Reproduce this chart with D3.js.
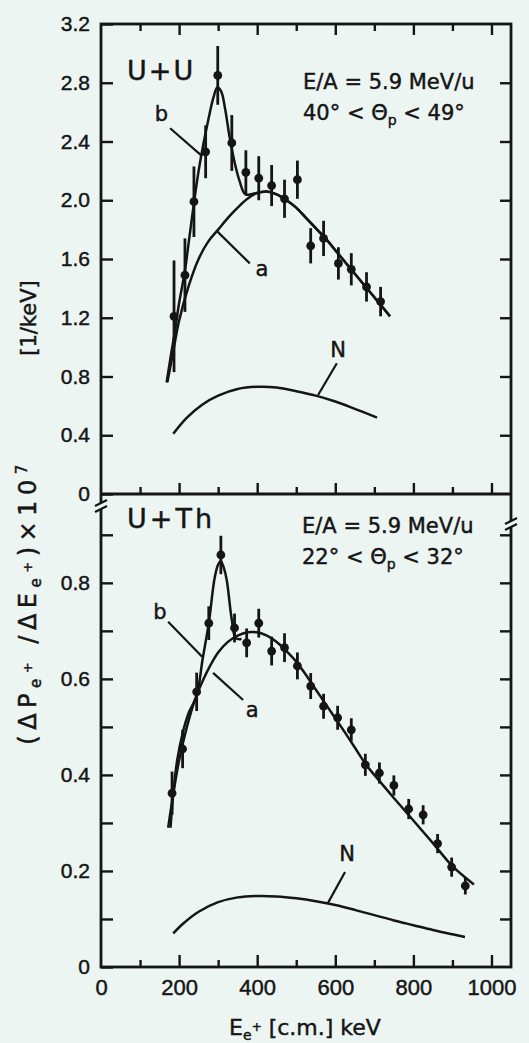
<!DOCTYPE html>
<html>
<head>
<meta charset="utf-8">
<script src="https://cdn.jsdelivr.net/npm/d3@7"></script>
<style>
  body { margin: 0; background: #edf5f3; }
  svg { display: block; font-family: "DejaVu Sans", sans-serif; }
  svg text { stroke: #151515; stroke-width: 0.45px; }
  .tick line { stroke: #151515; stroke-width: 2.4; }
  .tick text { fill: #151515; }
</style>
</head>
<body>
<div id="chart"></div>
<script>
// ---- data ----
const xMajorTicks = [0, 200, 400, 600, 800, 1000];
const xMinorTicks = [100, 300, 500, 700, 900];
const uuTicks = [0, 0.4, 0.8, 1.2, 1.6, 2.0, 2.4, 2.8, 3.2];
const thTicks = [0, 0.2, 0.4, 0.6, 0.8];
const thMinorTicks = [0.1, 0.3, 0.5, 0.7, 0.9];

// U+U measured points
const uuE   = [187, 215, 238, 268, 299, 335, 371, 404, 437, 470, 503, 537, 570, 608, 641, 680, 716];
const uuV   = [1.21, 1.49, 1.99, 2.33, 2.85, 2.39, 2.19, 2.15, 2.10, 2.01, 2.14, 1.69, 1.74, 1.57, 1.53, 1.41, 1.31];
const uuErr = [0.38, 0.25, 0.24, 0.18, 0.20, 0.19, 0.15, 0.15, 0.14, 0.13, 0.13, 0.12, 0.12, 0.11, 0.11, 0.10, 0.10];

// U+U curves a, b, N
const uuAE = [170, 185, 200, 225, 250, 275, 300, 325, 350, 375, 400, 425, 450, 475, 500, 525, 550, 575, 600, 625, 650, 675, 700, 725, 740];
const uuA  = [0.76, 0.97, 1.18, 1.42, 1.60, 1.72, 1.80, 1.88, 1.95, 2.01, 2.05, 2.06, 2.04, 2.00, 1.95, 1.88, 1.81, 1.74, 1.66, 1.58, 1.50, 1.42, 1.34, 1.26, 1.21];
const uuBE = [168, 180, 190, 200, 215, 225, 238, 250, 262, 275, 288, 298, 308, 318, 330, 342, 355, 370];
const uuB  = [0.76, 0.96, 1.12, 1.30, 1.52, 1.72, 1.98, 2.20, 2.38, 2.55, 2.70, 2.77, 2.74, 2.62, 2.42, 2.26, 2.13, 2.04];
const uuNE = [185, 220, 260, 300, 350, 400, 450, 500, 550, 600, 650, 707];
const uuN  = [0.41, 0.52, 0.61, 0.67, 0.715, 0.73, 0.725, 0.70, 0.67, 0.63, 0.58, 0.52];

// U+Th measured points
const thE   = [182, 209, 245, 276, 307, 342, 373, 404, 437, 470, 503, 537, 570, 606, 641, 677, 713, 750, 788, 825, 862, 898, 933];
const thV   = [0.362, 0.454, 0.573, 0.716, 0.858, 0.706, 0.675, 0.716, 0.658, 0.665, 0.627, 0.585, 0.543, 0.519, 0.494, 0.421, 0.404, 0.378, 0.329, 0.317, 0.257, 0.208, 0.169];
const thErr = [0.045, 0.04, 0.04, 0.035, 0.04, 0.03, 0.03, 0.03, 0.03, 0.03, 0.028, 0.027, 0.026, 0.025, 0.024, 0.023, 0.022, 0.021, 0.021, 0.02, 0.02, 0.02, 0.018];

// U+Th curves a, b, N
const thAE = [172, 185, 200, 220, 240, 260, 280, 300, 325, 350, 375, 400, 425, 450, 475, 500, 525, 550, 575, 600, 625, 650, 679, 700, 750, 800, 850, 900, 955];
const thA  = [0.29, 0.36, 0.43, 0.50, 0.555, 0.595, 0.628, 0.655, 0.677, 0.690, 0.697, 0.697, 0.690, 0.677, 0.658, 0.636, 0.608, 0.578, 0.548, 0.518, 0.488, 0.457, 0.421, 0.400, 0.352, 0.305, 0.258, 0.210, 0.172];
const thBE = [178, 185, 195, 210, 225, 245, 260, 276, 291, 300, 307, 315, 322, 335, 345, 360];
const thB  = [0.29, 0.36, 0.43, 0.49, 0.53, 0.565, 0.64, 0.716, 0.81, 0.838, 0.845, 0.83, 0.806, 0.723, 0.685, 0.683];
const thNE = [185, 210, 250, 300, 350, 400, 450, 500, 550, 600, 650, 700, 750, 800, 850, 900, 932];
const thN  = [0.07, 0.09, 0.115, 0.135, 0.145, 0.148, 0.147, 0.143, 0.137, 0.129, 0.119, 0.108, 0.097, 0.087, 0.077, 0.068, 0.0625];

// ---- layout ----
const W = 529, H = 1043;
const frameLeft = 101, frameRight = 511, frameTop = 24, frameMid = 494, frameBottom = 967;
const ink = "#151515";
const paper = "#edf5f3";

const svg = d3.select("#chart").append("svg")
    .attr("width", W)
    .attr("height", H);

svg.append("rect").attr("width", W).attr("height", H).attr("fill", paper);

const x = d3.scaleLinear().domain([0, 1050]).range([frameLeft, frameRight]);
const yU = d3.scaleLinear().domain([0, 3.2]).range([frameMid, frameTop]);
const yT = d3.scaleLinear().domain([0, 0.985]).range([frameBottom, frameMid]);

const zip = (xs, ys) => xs.map((e, i) => [e, ys[i]]);

// ---- axes ----
function xTickRow(y, majorLen, minorLen, labels) {
    const g = svg.append("g").attr("transform", `translate(0,${y})`);
    g.append("g")
        .call(d3.axisBottom(x).tickValues(labels ? xMajorTicks : xMajorTicks.slice(1))
            .tickSizeInner(majorLen).tickSizeOuter(0).tickPadding(12)
            .tickFormat(labels ? d3.format("d") : ""))
        .call(s => s.select(".domain").remove())
        .selectAll("text").attr("font-size", 22);
    g.append("g")
        .call(d3.axisBottom(x).tickValues(xMinorTicks)
            .tickSizeInner(minorLen).tickSizeOuter(0).tickFormat(""))
        .call(s => s.select(".domain").remove());
    if (labels) g.selectAll(".tick").filter(d => d === 0).select("line").remove();
}
xTickRow(frameTop, 11, 7, false);
xTickRow(frameMid, -11, -7, false);
xTickRow(frameBottom, -12, -7, true);

// left / right ticks of U+U panel
svg.append("g").attr("transform", `translate(${frameLeft},0)`)
    .call(d3.axisLeft(yU).tickValues(uuTicks).tickSizeInner(-12).tickSizeOuter(0)
        .tickPadding(11).tickFormat(d => d === 0 ? "0" : d3.format(".1f")(d)))
    .call(s => s.select(".domain").remove())
    .selectAll("text").attr("font-size", 21);
svg.append("g").attr("transform", `translate(${frameRight},0)`)
    .call(d3.axisRight(yU).tickValues(uuTicks.slice(1, -1)).tickSizeInner(-11).tickSizeOuter(0).tickFormat(""))
    .call(s => s.select(".domain").remove());

// left / right ticks of U+Th panel
svg.append("g").attr("transform", `translate(${frameLeft},0)`)
    .call(d3.axisLeft(yT).tickValues(thTicks).tickSizeInner(-12).tickSizeOuter(0)
        .tickPadding(11).tickFormat(d => d === 0 ? "0" : d3.format(".1f")(d)))
    .call(s => s.select(".domain").remove())
    .selectAll("text").attr("font-size", 21);
svg.append("g").attr("transform", `translate(${frameLeft},0)`)
    .call(d3.axisLeft(yT).tickValues(thMinorTicks).tickSizeInner(-12).tickSizeOuter(0).tickFormat(""))
    .call(s => s.select(".domain").remove());
svg.append("g").attr("transform", `translate(${frameRight},0)`)
    .call(d3.axisRight(yT).tickValues(thTicks.slice(1).concat(thMinorTicks)).tickSizeInner(-11).tickSizeOuter(0).tickFormat(""))
    .call(s => s.select(".domain").remove());

// frame
svg.append("rect")
    .attr("x", frameLeft).attr("y", frameTop)
    .attr("width", frameRight - frameLeft).attr("height", frameBottom - frameTop)
    .attr("fill", "none").attr("stroke", ink).attr("stroke-width", 2.8);
svg.append("line")
    .attr("x1", frameLeft).attr("x2", frameRight).attr("y1", frameMid).attr("y2", frameMid)
    .attr("stroke", ink).attr("stroke-width", 2.8);

// axis breaks
function axisBreak(cx, cy) {
    svg.append("rect").attr("x", cx - 3).attr("y", cy - 3).attr("width", 6).attr("height", 6).attr("fill", paper);
    [-3, 3].forEach(o => svg.append("line")
        .attr("x1", cx - 6).attr("y1", cy + o + 3)
        .attr("x2", cx + 6).attr("y2", cy + o - 3)
        .attr("stroke", ink).attr("stroke-width", 2.2));
}
axisBreak(frameLeft, 506);
axisBreak(frameRight, 524);

// ---- data marks ----
const plot = svg.append("g");

function drawPanel(y, curves, E, V, Err) {
    const line = d3.line().x(d => x(d[0])).y(d => y(d[1])).curve(d3.curveCatmullRom.alpha(0.5));
    curves.forEach(c => plot.append("path")
        .attr("d", line(c))
        .attr("fill", "none").attr("stroke", ink).attr("stroke-width", 2.5));
    const pts = E.map((e, i) => ({ e, v: V[i], err: Err[i] }));
    plot.selectAll(null).data(pts).join("line")
        .attr("x1", d => x(d.e)).attr("x2", d => x(d.e))
        .attr("y1", d => y(d.v - d.err)).attr("y2", d => y(d.v + d.err))
        .attr("stroke", ink).attr("stroke-width", 2.8);
    plot.selectAll(null).data(pts).join("circle")
        .attr("cx", d => x(d.e)).attr("cy", d => y(d.v)).attr("r", 4.4)
        .attr("fill", ink);
}

const uuBfull = zip(uuBE, uuB).concat(zip(uuAE, uuA).filter(d => d[0] >= 400));
drawPanel(yU, [zip(uuAE, uuA), uuBfull, zip(uuNE, uuN)], uuE, uuV, uuErr);
drawPanel(yT, [zip(thAE, thA), zip(thBE, thB), zip(thNE, thN)], thE, thV, thErr);

// ---- curve labels with leader lines ----
function leader(y, e1, v1, e2, v2, lbl, le, lv) {
    plot.append("line")
        .attr("x1", x(e1)).attr("y1", y(v1)).attr("x2", x(e2)).attr("y2", y(v2))
        .attr("stroke", ink).attr("stroke-width", 2.2);
    plot.append("text")
        .attr("x", x(le)).attr("y", y(lv))
        .attr("text-anchor", "middle").attr("dominant-baseline", "central")
        .attr("font-size", 21).attr("fill", ink)
        .text(lbl);
}
leader(yU, 297, 1.79, 381, 1.57, "a", 412, 1.53);
leader(yU, 177, 2.49, 259, 2.30, "b", 155, 2.59);
leader(yU, 556, 0.674, 604, 0.89, "N", 607, 0.98);
leader(yT, 287, 0.6125, 364, 0.556, "a", 387, 0.535);
leader(yT, 172, 0.719, 259, 0.646, "b", 151, 0.74);
leader(yT, 581, 0.133, 625, 0.198, "N", 630, 0.235);

// ---- panel texts ----
const txt = svg.append("g").attr("fill", ink);
txt.append("text").attr("x", 127).attr("y", 80).attr("font-size", 27).attr("letter-spacing", 2).text("U+U");
txt.append("text").attr("x", 127).attr("y", 528).attr("font-size", 27).attr("letter-spacing", 3).text("U+Th");

function infoText(x0, y0, a, b) {
    txt.append("text").attr("x", x0).attr("y", y0).attr("font-size", 21).text("E/A = 5.9 MeV/u");
    const t = txt.append("text").attr("x", x0).attr("y", y0 + 31).attr("font-size", 21);
    t.append("tspan").text(`${a}° < Θ`);
    t.append("tspan").attr("font-size", 14).attr("dy", 5).text("p");
    t.append("tspan").attr("dy", -5).text(` < ${b}°`);
}
infoText(303, 89, 40, 49);
infoText(302, 533, 22, 32);

// ---- axis titles ----
const xt = txt.append("text").attr("x", 305).attr("y", 1035).attr("text-anchor", "middle").attr("font-size", 22);
xt.append("tspan").text("E");
xt.append("tspan").attr("font-size", 14).attr("dy", 5).text("e");
xt.append("tspan").attr("font-size", 12).attr("dy", -9).text("+");
xt.append("tspan").attr("dy", 4).text(" [c.m.] keV");

const yt = txt.append("text").attr("transform", "translate(36,602) rotate(-90)")
    .attr("text-anchor", "middle").attr("font-size", 24).attr("letter-spacing", 5.5);
yt.append("tspan").text("(ΔP");
yt.append("tspan").attr("font-size", 15).attr("dy", 5).text("e");
yt.append("tspan").attr("font-size", 13).attr("dy", -9).text("+");
yt.append("tspan").attr("dy", 4).text(" /ΔE");
yt.append("tspan").attr("font-size", 15).attr("dy", 5).text("e");
yt.append("tspan").attr("font-size", 13).attr("dy", -9).text("+");
yt.append("tspan").attr("dy", 4).text(")×10");
yt.append("tspan").attr("font-size", 15).attr("dy", -9).text("7");

txt.append("text").attr("transform", "translate(36,318) rotate(-90)")
    .attr("text-anchor", "middle").attr("font-size", 21).text("[1/keV]");
</script>
</body>
</html>
